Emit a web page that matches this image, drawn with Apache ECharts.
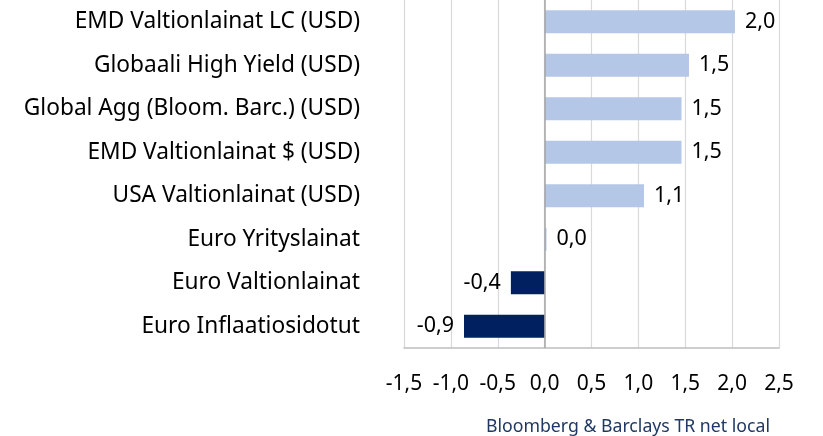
<!DOCTYPE html>
<html><head><meta charset="utf-8">
<script src="https://cdn.jsdelivr.net/npm/echarts@6/dist/echarts.min.js"></script>
<style>html,body{margin:0;padding:0;background:#fff}#c{width:823px;height:436px}</style>
</head><body><div id="c"></div>
<script>
const categories = ["Euro Inflaatiosidotut","Euro Valtionlainat","Euro Yrityslainat","USA Valtionlainat (USD)","EMD Valtionlainat $ (USD)","Global Agg (Bloom. Barc.) (USD)","Globaali High Yield (USD)","EMD Valtionlainat LC (USD)"];
const values = [-0.86, -0.36, 0.02, 1.06, 1.46, 1.46, 1.54, 2.03];
const tickValues = [-1.5,-1.0,-0.5,0.0,0.5,1.0,1.5,2.0,2.5];
const sourceText = "Bloomberg & Barclays TR net local";

const FONT = "Noto Sans";
const fmt = v => v.toFixed(1).replace('.', ',');
const chart = echarts.init(document.getElementById('c'));
chart.setOption({
  animation:false,
  textStyle:{fontFamily:FONT},
  grid:{left:404, right:44, top:-2, bottom:88, containLabel:false},
  xAxis:{type:'value', min:tickValues[0], max:tickValues[tickValues.length-1], interval:0.5,
    axisLine:{show:true, lineStyle:{color:'#BFBFBF', width:1.5}},
    axisTick:{show:false},
    splitLine:{show:true, lineStyle:{color:'#D9D9D9', width:1.2}},
    axisLabel:{color:'#000', fontSize:21, margin:26, fontFamily:FONT, formatter:fmt}},
  yAxis:{type:'category', data:categories,
    axisLine:{show:false, onZero:false}, axisTick:{show:false},
    axisLabel:{color:'#000', fontSize:22.7, margin:44, fontFamily:FONT}},
  graphic:[{type:'text', right:53, bottom:0, style:{text:sourceText, fill:'#1F3864', font:'17.7px "Noto Sans"'}}],
  series:[{type:'bar', barWidth:23,
    data:values.map(v=>({value:v, itemStyle:{color: v<0 ? '#002060' : '#B4C7E7'},
      label:{position: v<0 ? 'left' : 'right'}})),
    label:{show:true, fontSize:21.5, color:'#000', distance:10, fontFamily:FONT, formatter:p=>fmt(p.value)},
    markLine:{silent:true, symbol:'none', label:{show:false},
      lineStyle:{color:'#A6A6A6', width:1.5, type:'solid'}, data:[{xAxis:0}]}
  }]
});
</script></body></html>
